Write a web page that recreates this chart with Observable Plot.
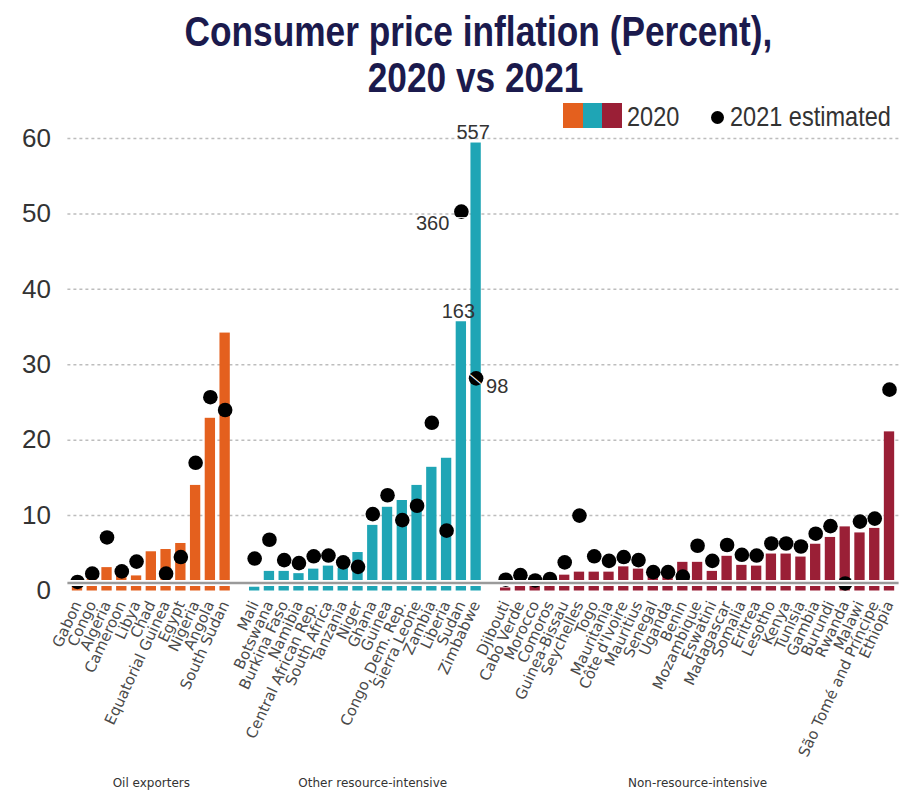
<!DOCTYPE html>
<html>
<head>
<meta charset="utf-8">
<script src="https://cdn.jsdelivr.net/npm/d3@7"></script>
<script src="https://cdn.jsdelivr.net/npm/@observablehq/plot@0.6"></script>
<style>
  body { margin: 0; background: #fff; }
  #wrap { position: relative; width: 910px; height: 799px; overflow: hidden; background: #fff; }
  .t { position: absolute; width: 910px; text-align: center; font-family: "Liberation Sans", Arial, sans-serif;
       font-weight: bold; color: #1b1a4d; font-size: 43px; line-height: 43px; white-space: nowrap; }
  .t span { display: inline-block; transform: scaleX(0.82); transform-origin: center; }
  #chart { position: absolute; top: 100px; left: 0; }
  .lg { position: absolute; font-family: "Liberation Sans", Arial, sans-serif; color: #333; font-size: 28px;
        line-height: 28px; white-space: nowrap; transform: scaleX(0.84); transform-origin: left center; }
  .sq { position: absolute; top: 103px; width: 19.5px; height: 25px; }
  .ld { position: absolute; width: 13px; height: 13px; border-radius: 50%; background: #000; }
</style>
</head>
<body>
<div id="wrap">
  <div class="t" style="top:10px; left:23px;"><span>Consumer price inflation (Percent),</span></div>
  <div class="t" style="top:56px; left:21px;"><span>2020 vs 2021</span></div>
  <div id="chart"></div>
  <div class="sq" style="left:563px; background:#e4601e;"></div>
  <div class="sq" style="left:582.5px; background:#1fa5b5;"></div>
  <div class="sq" style="left:602px; background:#9a1f36;"></div>
  <div class="lg" style="left:627px; top:103px;">2020</div>
  <div class="ld" style="left:710.5px; top:110.5px;"></div>
  <div class="lg" style="left:730px; top:103px;">2021 estimated</div>
</div>
<script>
// ---- Data ----
const groups = ["Oil exporters", "Other resource-intensive", "Non-resource-intensive"];
const groupColors = ["#e4601e", "#1fa5b5", "#9a1f36"];

const oilCountries = ["Gabon","Congo","Algeria","Cameroon","Libya","Chad","Equatorial Guinea","Egypt","Nigeria","Angola","South Sudan"];
const oil2020 = [1.0, 1.5, 3.1, 2.4, 2.0, 5.2, 5.5, 6.3, 14.0, 22.9, 34.2];
const oil2021 = [1.2, 2.3, 7.1, 2.6, 3.9, null, 2.3, 4.5, 17.0, 25.7, 24.0];

const otherCountries = ["Mali","Botswana","Burkina Faso","Namibia","Central African Rep.","South Africa","Tanzania","Niger","Ghana","Guinea","Congo, Dem. Rep.","Sierra Leone","Zambia","Liberia","Sudan","Zimbabwe"];
const other2020 = [0.5, 2.6, 2.6, 2.3, 2.9, 3.3, 3.0, 5.1, 8.7, 11.1, 12.0, 14.0, 16.4, 17.6, 35.7, 59.4];
const other2021 = [4.3, 6.8, 4.1, 3.7, 4.6, 4.7, 3.8, 3.2, 10.2, 12.7, 9.4, 11.3, 22.3, 8.0, 50.3, 28.2];

const nonCountries = ["Djibouti","Cabo Verde","Morocco","Comoros","Guinea-Bissau","Seychelles","Togo","Mauritania","Côte d'Ivoire","Mauritius","Senegal","Uganda","Benin","Mozambique","Eswatini","Madagascar","Somalia","Eritrea","Lesotho","Kenya","Tunisia","Gambia","Burundi","Rwanda","Malawi","São Tomé and Príncipe","Ethiopia"];
const non2020 = [0.4, 0.6, 0.7, 0.8, 2.1, 2.5, 2.5, 2.5, 3.2, 2.9, 2.0, 2.0, 3.8, 3.8, 2.6, 4.6, 3.4, 3.3, 4.9, 4.9, 4.5, 6.2, 7.1, 8.5, 7.7, 8.3, 21.1];
const non2021 = [1.5, 2.1, 1.4, 1.6, 3.8, 10.0, 4.6, 4.0, 4.5, 4.1, 2.5, 2.5, 1.9, 6.0, 4.0, 6.1, 4.8, 4.7, 6.3, 6.3, 5.9, 7.6, 8.6, 1.0, 9.2, 9.6, 26.7];

// Off-scale values written next to truncated bars / dots
const barLabelCountries = ["Sudan", "Zimbabwe"];
const barLabelTexts = ["163", "557"];
const dotLabelCountries = ["Sudan", "Zimbabwe"];
const dotLabelTexts = ["360", "98"];

const yTicks = [0, 10, 20, 30, 40, 50, 60];
const gridTicks = [10, 20, 30, 40, 50, 60];
const groupLabelAt = ["Chad", "Ghana", "Mozambique"];

// ---- Build rows ----
const rows = [];
function add(countries, a, b, g) {
  countries.forEach((c, i) => rows.push({country: c, v2020: a[i], v2021: b[i], group: g}));
}
add(oilCountries, oil2020, oil2021, groups[0]);
add(otherCountries, other2020, other2021, groups[1]);
add(nonCountries, non2020, non2021, groups[2]);

const xDomain = [...oilCountries, "gap1", ...otherCountries, "gap2", ...nonCountries];
const dots = rows.filter(d => d.v2021 != null);
const barLabels = barLabelCountries.map((c, i) => ({country: c, v: rows.find(r => r.country === c).v2020, text: barLabelTexts[i]}));
const dotLabels = dotLabelCountries.map((c, i) => ({country: c, v: rows.find(r => r.country === c).v2021, text: dotLabelTexts[i]}));
const groupLabels = groups.map((g, i) => ({label: g, at: groupLabelAt[i]}));

const chart = Plot.plot({
  width: 910,
  height: 699,
  marginLeft: 67.4,
  marginRight: 11.4,
  marginTop: 38,
  marginBottom: 208.5,
  x: {domain: xDomain, padding: 0.3},
  y: {domain: [0, 60]},
  color: {domain: groups, range: groupColors},
  style: {fontFamily: "Liberation Sans, Arial, sans-serif", background: "white", overflow: "visible"},
  marks: [
    Plot.ruleY(gridTicks, {stroke: "#bdbdbd", strokeDasharray: "3,3", strokeWidth: 1.5}),
    Plot.barY(rows, {x: "country", y: "v2020", fill: "group"}),
    Plot.dot(dots, {x: "country", y: "v2021", r: 7.3, fill: "black"}),
    Plot.ruleY([0], {stroke: "white", strokeWidth: 6, dy: -8}),
    Plot.ruleY([0], {stroke: "#9a9a9a", strokeWidth: 2.5, dy: -8}),
    // break marks on off-scale dots
    Plot.text(dotLabels.slice(0, 1), {x: "country", y: "v", text: () => "—", fill: "white", fontSize: 11, dy: 5}),
    Plot.text(dotLabels.slice(1), {x: "country", y: "v", text: () => "—", fill: "white", fontSize: 14, rotate: 40}),
    // value annotations
    Plot.text(barLabels, {x: "country", y: "v", text: "text", fontSize: 20, fill: "#333", dy: -10, dx: -3}),
    Plot.text(dotLabels.slice(0, 1), {x: "country", y: "v", text: "text", fontSize: 20, fill: "#333", textAnchor: "end", dx: -12, dy: 12}),
    Plot.text(dotLabels.slice(1), {x: "country", y: "v", text: "text", fontSize: 20, fill: "#333", textAnchor: "start", dx: 10, dy: 8}),
    Plot.axisY(yTicks, {tickSize: 0, tickPadding: 17, fontSize: 26, fill: "#333", label: null}),
    Plot.axisX({tickSize: 0, tickRotate: -65, tickPadding: 11, fontSize: 15, fontFamily: "DejaVu Sans, sans-serif",
      fill: "#4a4a4a", label: null, tickFormat: d => d.startsWith("gap") ? "" : d}),
    Plot.text(groupLabels, {x: "at", text: "label", frameAnchor: "bottom", dy: 195.5, fontSize: 12,
      fontFamily: "DejaVu Sans, sans-serif", fill: "#333"})
  ]
});
document.getElementById("chart").appendChild(chart);
</script>
</body>
</html>
